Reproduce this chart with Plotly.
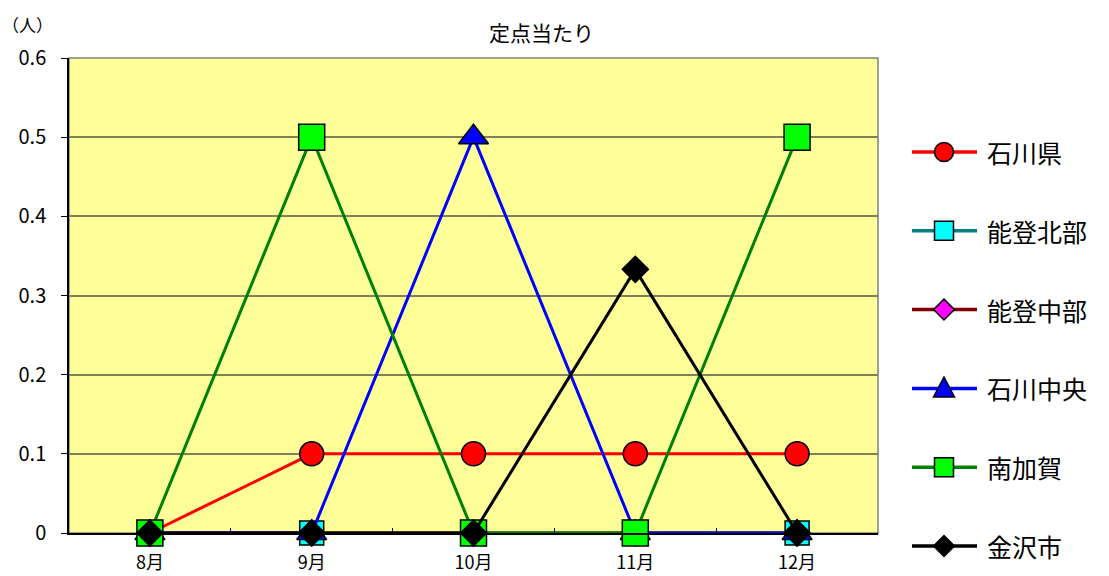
import plotly.graph_objects as go

months = ["8月", "9月", "10月", "11月", "12月"]
series_names = ["石川県", "能登北部", "能登中部", "石川中央", "南加賀", "金沢市"]
ishikawa = [0, 0.1, 0.1, 0.1, 0.1]
noto_hokubu = [0, 0, 0, 0, 0]
noto_chubu = [0, 0, 0, 0, 0]
ishikawa_chuo = [0, 0, 0.5, 0, 0]
minami_kaga = [0, 0.5, 0, 0, 0.5]
kanazawa = [0, 0, 0, 0.333, 0]
y_ticks = [0, 0.1, 0.2, 0.3, 0.4, 0.5, 0.6]

values = [ishikawa, noto_hokubu, noto_chubu, ishikawa_chuo, minami_kaga, kanazawa]
line_colors = ["#FF0000", "#008080", "#800000", "#0000FF", "#008000", "#000000"]
marker_colors = ["#FF0000", "#00FFFF", "#FF00FF", "#0000FF", "#00FF00", "#000000"]
symbols = ["circle", "square", "diamond", "triangle-up", "square", "diamond"]
sizes = [24, 24, 20, 26, 26, 20]

FONT = "Noto Sans CJK JP"
W, H = 1109, 576
ML, MR, MT, MB = 69, 231, 58, 43
PW, PH = W - ML - MR, H - MT - MB


def px_x(X):
    return (X - ML) / PW


def px_y(Y):
    return (H - MB - Y) / PH


fig = go.Figure()
for i, name in enumerate(series_names):
    fig.add_trace(go.Scatter(
        x=months, y=values[i], name=name, mode="lines+markers",
        line=dict(color=line_colors[i], width=3),
        marker=dict(symbol=symbols[i], size=sizes[i], color=marker_colors[i],
                    line=dict(color="#000000", width=1.5)),
        cliponaxis=False, showlegend=False,
    ))

shapes = [dict(type="rect", xref="paper", yref="paper", x0=0, y0=0, x1=1, y1=1,
               line=dict(color="#808080", width=1.5), layer="below")]
annotations = [
    dict(text="定点当たり", xref="paper", yref="paper", x=px_x(541), y=1.0,
         yshift=MT - 32, yanchor="middle", showarrow=False, font=dict(family=FONT, size=21)),
    dict(text="（人）", xref="paper", yref="paper", x=px_x(27), y=1.0,
         yshift=MT - 24, yanchor="middle", xanchor="center", showarrow=False,
         font=dict(family=FONT, size=17)),
]

# manual legend (large spacing as in the reference)
LEG_LINE_X0, LEG_LINE_X1, LEG_MARK_X, LEG_TEXT_X = 912, 977, 944, 985
LEG_Y0, LEG_DY = 152, 78.8
ms = 9.5
marker_paths = {
    "diamond": f"M{-ms*1.1},0 L0,{ms*1.1} L{ms*1.1},0 L0,{-ms*1.1} Z",
    "triangle-up": f"M{-ms*1.1},{-ms*0.9} L{ms*1.1},{-ms*0.9} L0,{ms*1.2} Z",
}
for i, name in enumerate(series_names):
    yc = px_y(LEG_Y0 + LEG_DY * i)
    shapes.append(dict(type="line", xref="paper", yref="paper",
                       x0=px_x(LEG_LINE_X0), x1=px_x(LEG_LINE_X1), y0=yc, y1=yc,
                       line=dict(color=line_colors[i], width=3.5)))
    sym = symbols[i]
    common = dict(xref="paper", yref="paper", xsizemode="pixel", ysizemode="pixel",
                  xanchor=px_x(LEG_MARK_X), yanchor=yc,
                  fillcolor=marker_colors[i], line=dict(color="#000000", width=1.5))
    if sym == "circle":
        shapes.append(dict(type="circle", x0=-ms, x1=ms, y0=-ms, y1=ms, **common))
    elif sym == "square":
        shapes.append(dict(type="rect", x0=-ms, x1=ms, y0=-ms, y1=ms, **common))
    else:
        shapes.append(dict(type="path", path=marker_paths[sym], **common))
    annotations.append(dict(text=name, xref="paper", yref="paper", x=px_x(LEG_TEXT_X), y=yc,
                            xanchor="left", yanchor="middle", showarrow=False,
                            font=dict(family=FONT, size=25, color="#000000")))

fig.update_layout(
    width=W, height=H,
    margin=dict(l=ML, r=MR, t=MT, b=MB, autoexpand=False),
    paper_bgcolor="white",
    plot_bgcolor="#FFFF99",
    font=dict(family=FONT, color="#000000", size=19),
    showlegend=False,
    shapes=shapes,
    annotations=annotations,
)

fig.update_xaxes(
    type="category", range=[-0.5, 4.5], automargin=False,
    showline=True, linecolor="#000000", linewidth=1.5,
    ticks="inside", tickson="boundaries", ticklen=5, tickcolor="#000000",
    showgrid=False, tickfont=dict(family=FONT, size=18), ticklabelstandoff=13,
)
fig.update_yaxes(
    range=[0, 0.6], tickvals=y_ticks, ticktext=[str(v) for v in y_ticks], automargin=False,
    showline=True, linecolor="#000000", linewidth=1.5,
    ticks="outside", ticklen=6, tickcolor="#000000",
    showgrid=True, gridcolor="#80805A", gridwidth=1.5,
    zeroline=False, tickfont=dict(family=FONT, size=20), ticklabelstandoff=11,
)

fig.write_html(
    "out.html",
    config={"displayModeBar": False},
    post_script="document.body.style.margin='0';document.body.style.overflow='hidden';",
)
